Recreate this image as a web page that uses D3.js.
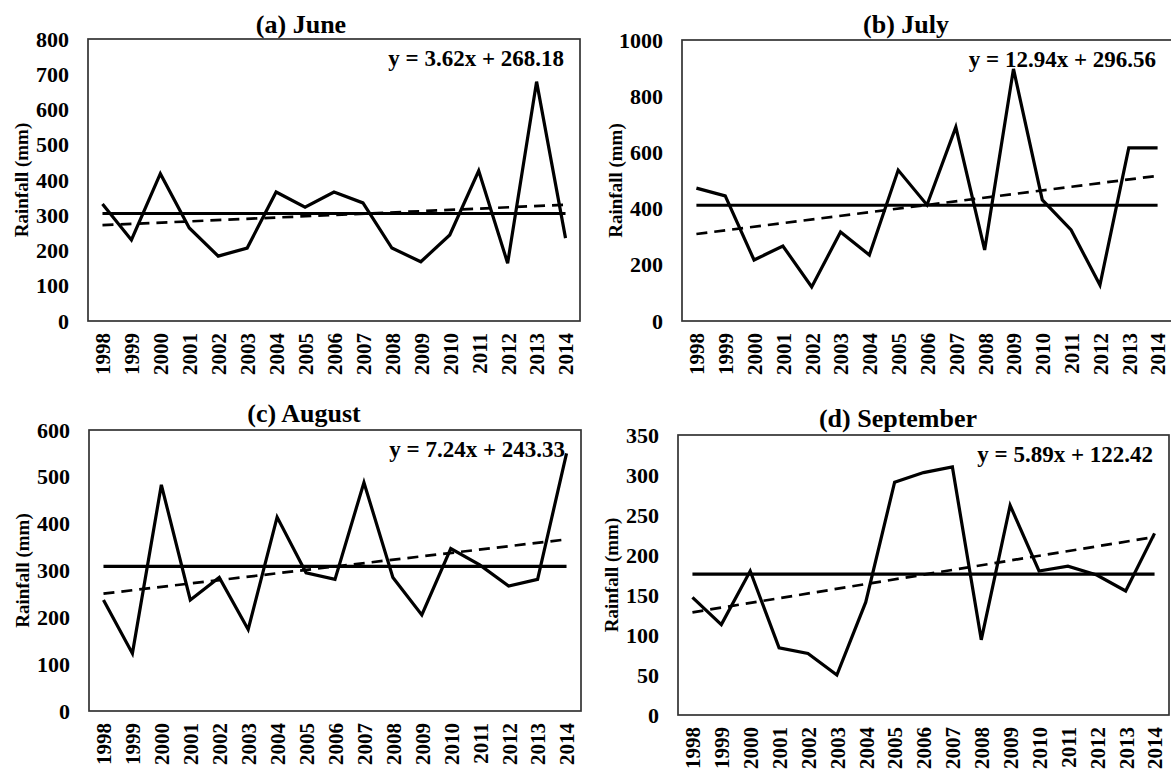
<!DOCTYPE html>
<html>
<head>
<meta charset="utf-8">
<script src="https://cdn.jsdelivr.net/npm/d3@7"></script>
<style>
  body { margin: 0; background: #fff; }
  svg { display: block; font-family: "Liberation Serif", "Times New Roman", serif; font-weight: bold; }
  .frame { fill: none; stroke: #333; stroke-width: 1.7; }
  .rain { fill: none; stroke: #000; stroke-width: 3.2; stroke-linejoin: miter; }
  .mean { stroke: #000; stroke-width: 3.2; }
  .trend { fill: none; stroke: #000; stroke-width: 2.7; stroke-dasharray: 11,7; }
</style>
</head>
<body>
<div class="graph"></div>
<script>
// categories
var years = ["1998", "1999", "2000", "2001", "2002", "2003", "2004", "2005", "2006",
             "2007", "2008", "2009", "2010", "2011", "2012", "2013", "2014"];

// monthly rainfall (mm)
var juneRain = [332, 230, 418, 264, 184, 207, 366, 323, 366, 335, 207, 168, 244, 426, 164, 679, 235];
var julyRain = [473, 445, 217, 267, 121, 317, 235, 537, 413, 690, 253, 897, 431, 324, 128, 616, 616];
var augustRain = [237, 123, 483, 237, 285, 174, 414, 295, 281, 488, 285, 205, 347, 312, 267, 281, 550];
var septemberRain = [147, 113, 180, 84, 77, 50, 141, 291, 303, 310, 94, 262, 180, 186, 175, 155, 227];

// long term mean lines
var meanRain = [305, 412, 309, 176];

// trend equations y = a x + b
var trendSlope = [3.62, 12.94, 7.24, 5.89];
var trendIntercept = [268.18, 296.56, 243.33, 122.42];

var panelTitles = ["(a) June", "(b) July", "(c) August", "(d) September"];
var yMax = [800, 1000, 600, 350];
var yStep = [100, 200, 100, 50];

// plot boxes of the four panels
var boxes = [
  {left: 88, top: 39, width: 492, height: 282, titleX: 301, titleY: 33},
  {left: 682, top: 40, width: 490, height: 281, titleX: 906, titleY: 33},
  {left: 89, top: 430, width: 492, height: 281, titleX: 304, titleY: 422},
  {left: 678, top: 435, width: 491, height: 280, titleX: 898, titleY: 427}
];

var allRain = [juneRain, julyRain, augustRain, septemberRain];

var svg = d3.select(".graph").append("svg")
    .attr("width", 1171)
    .attr("height", 776);

svg.append("rect")
    .attr("width", 1171)
    .attr("height", 776)
    .attr("fill", "#fff");

allRain.forEach(function(values, i) {
  drawPanel(i, values);
});

function drawPanel(i, values) {
  var b = boxes[i];

  var x = d3.scalePoint().domain(years).range([0, b.width]).padding(0.5);
  var y = d3.scaleLinear().domain([0, yMax[i]]).range([b.height, 0]);

  var g = svg.append("g")
      .attr("transform", "translate(" + b.left + "," + b.top + ")");

  // frame
  g.append("rect")
      .attr("class", "frame")
      .attr("width", b.width)
      .attr("height", b.height);

  // y axis
  var yAxis = g.append("g")
      .call(d3.axisLeft(y)
        .tickValues(d3.range(0, yMax[i] + 1, yStep[i]))
        .tickFormat(d3.format("d"))
        .tickSize(0)
        .tickPadding(19));
  yAxis.select(".domain").remove();
  yAxis.selectAll("text")
      .attr("font-size", 22)
      .attr("font-family", "Liberation Serif")
      .attr("font-weight", "bold")
      .attr("fill", "#000");

  // x axis, rotated years
  var xAxis = g.append("g")
      .attr("transform", "translate(0," + b.height + ")")
      .call(d3.axisBottom(x).tickSize(0));
  xAxis.select(".domain").remove();
  xAxis.selectAll("text")
      .attr("font-size", 21)
      .attr("font-family", "Liberation Serif")
      .attr("font-weight", "bold")
      .attr("fill", "#000")
      .attr("transform", "rotate(-90)")
      .attr("text-anchor", "end")
      .attr("x", -12)
      .attr("y", 0)
      .attr("dy", "0.35em");

  // mean line
  g.append("line")
      .attr("class", "mean")
      .attr("x1", x(years[0]))
      .attr("x2", x(years[years.length - 1]))
      .attr("y1", y(meanRain[i]))
      .attr("y2", y(meanRain[i]));

  // trend line
  var trend = d3.line()
      .x(function(d) { return x(d); })
      .y(function(d) { return y(trendSlope[i] * (years.indexOf(d) + 1) + trendIntercept[i]); });
  g.append("path")
      .datum([years[0], years[years.length - 1]])
      .attr("class", "trend")
      .attr("d", trend);

  // rainfall series
  var rainLine = d3.line()
      .x(function(d, k) { return x(years[k]); })
      .y(function(d) { return y(d); });
  g.append("path")
      .datum(values)
      .attr("class", "rain")
      .attr("d", rainLine);

  // equation
  g.append("text")
      .attr("x", b.width - 16)
      .attr("y", 27)
      .attr("text-anchor", "end")
      .attr("font-size", 23)
      .text("y = " + trendSlope[i] + "x + " + trendIntercept[i]);

  // y title
  g.append("text")
      .attr("transform", "translate(-67," + (b.height / 2) + ") rotate(-90)")
      .attr("text-anchor", "middle")
      .attr("dy", "0.35em")
      .attr("font-size", 19)
      .text("Rainfall (mm)");

  // panel title
  svg.append("text")
      .attr("x", b.titleX)
      .attr("y", b.titleY)
      .attr("text-anchor", "middle")
      .attr("font-size", 26)
      .text(panelTitles[i]);
}
</script>
</body>
</html>
